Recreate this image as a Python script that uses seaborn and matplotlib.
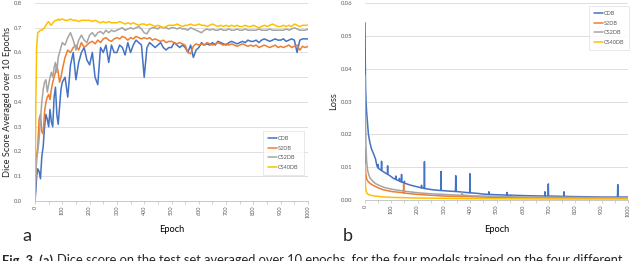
import pandas as pd
import seaborn as sns
import matplotlib.pyplot as plt
from matplotlib.ticker import MultipleLocator, FormatStrFormatter

# ---- data: (a) dice score averaged over 10 epochs ----
models = ['CDB', 'S2DB', 'CS2DB', 'CS40DB']
colors = ['#4472C4', '#ED7D31', '#A5A5A5', '#FFC000']

dice_epochs = [0, 3, 6] + list(range(10, 100, 5)) + list(range(100, 1001, 10))

dice_cdb = [0.0, 0.04, 0.10,
            0.13, 0.12, 0.09, 0.18, 0.22, 0.30, 0.35, 0.33, 0.30, 0.37, 0.32, 0.30, 0.42, 0.46, 0.35, 0.31, 0.38, 0.45,
            0.48, 0.50, 0.42, 0.55, 0.60, 0.49, 0.56, 0.60, 0.62, 0.57,
            0.55, 0.60, 0.50, 0.47, 0.62, 0.60, 0.63, 0.56, 0.63, 0.60,
            0.60, 0.63, 0.62, 0.59, 0.64, 0.60, 0.63, 0.65, 0.64, 0.63,
            0.50, 0.62, 0.64, 0.63, 0.62, 0.63, 0.64, 0.62, 0.61, 0.62,
            0.62, 0.64, 0.63, 0.62, 0.63, 0.62, 0.60, 0.63, 0.58, 0.61,
            0.62, 0.64, 0.63, 0.635, 0.63, 0.64, 0.63, 0.645, 0.64, 0.635,
            0.63, 0.64, 0.645, 0.64, 0.635, 0.64, 0.645, 0.64, 0.65, 0.645,
            0.645, 0.65, 0.64, 0.65, 0.655, 0.65, 0.645, 0.65, 0.655, 0.65,
            0.65, 0.655, 0.645, 0.65, 0.655, 0.65, 0.60, 0.65, 0.655, 0.655,
            0.655]

dice_s2db = [0.05, 0.12, 0.18,
             0.22, 0.33, 0.35, 0.28, 0.27, 0.36, 0.40, 0.42, 0.43, 0.41, 0.45, 0.48, 0.50, 0.52, 0.55, 0.52, 0.48, 0.50,
             0.53, 0.58, 0.61, 0.60, 0.62, 0.63, 0.61, 0.64, 0.62, 0.63,
             0.64, 0.645, 0.635, 0.65, 0.64, 0.655, 0.66, 0.65, 0.645, 0.655,
             0.66, 0.655, 0.665, 0.66, 0.65, 0.66, 0.655, 0.665, 0.66, 0.655,
             0.66, 0.655, 0.66, 0.65, 0.655, 0.65, 0.645, 0.65, 0.64, 0.645,
             0.645, 0.64, 0.635, 0.64, 0.635, 0.63, 0.60, 0.595, 0.625, 0.635,
             0.63, 0.635, 0.63, 0.64, 0.635, 0.63, 0.635, 0.64, 0.635, 0.63,
             0.635, 0.63, 0.635, 0.63, 0.625, 0.63, 0.635, 0.63, 0.625, 0.63,
             0.625, 0.63, 0.62, 0.625, 0.63, 0.625, 0.62, 0.625, 0.63, 0.62,
             0.625, 0.62, 0.625, 0.63, 0.62, 0.625, 0.63, 0.61, 0.625, 0.62,
             0.625]

dice_cs2db = [0.0, 0.10, 0.17,
              0.20, 0.25, 0.33, 0.40, 0.45, 0.48, 0.49, 0.44, 0.47, 0.50, 0.52, 0.50, 0.54, 0.56, 0.52, 0.58, 0.60, 0.62,
              0.64, 0.63, 0.66, 0.68, 0.65, 0.61, 0.65, 0.67, 0.65, 0.64,
              0.67, 0.68, 0.665, 0.68, 0.685, 0.675, 0.69, 0.68, 0.69, 0.685,
              0.69, 0.695, 0.70, 0.69, 0.695, 0.70, 0.695, 0.70, 0.705, 0.695,
              0.68, 0.675, 0.695, 0.70, 0.70, 0.695, 0.705, 0.70, 0.70, 0.695,
              0.70, 0.70, 0.695, 0.70, 0.695, 0.695, 0.69, 0.70, 0.695, 0.69,
              0.685, 0.68, 0.69, 0.695, 0.69, 0.695, 0.69, 0.69, 0.695, 0.69,
              0.69, 0.695, 0.69, 0.69, 0.695, 0.69, 0.69, 0.695, 0.69, 0.69,
              0.69, 0.69, 0.695, 0.69, 0.69, 0.69, 0.695, 0.69, 0.69, 0.69,
              0.69, 0.69, 0.695, 0.69, 0.695, 0.70, 0.695, 0.69, 0.69, 0.69,
              0.695]

dice_cs40db = [0.0, 0.40, 0.62,
               0.68, 0.685, 0.69, 0.69, 0.695, 0.70, 0.71, 0.72, 0.725, 0.715, 0.71, 0.72, 0.725, 0.73, 0.73, 0.735, 0.73, 0.735,
               0.735, 0.73, 0.73, 0.735, 0.73, 0.73, 0.725, 0.73, 0.73, 0.73,
               0.73, 0.725, 0.73, 0.725, 0.72, 0.725, 0.72, 0.725, 0.72, 0.72,
               0.72, 0.725, 0.72, 0.715, 0.72, 0.715, 0.72, 0.715, 0.71, 0.715,
               0.715, 0.71, 0.715, 0.71, 0.705, 0.71, 0.705, 0.70, 0.705, 0.71,
               0.71, 0.71, 0.715, 0.71, 0.705, 0.71, 0.71, 0.715, 0.71, 0.71,
               0.715, 0.71, 0.71, 0.705, 0.71, 0.715, 0.71, 0.705, 0.71, 0.705,
               0.71, 0.705, 0.71, 0.705, 0.71, 0.705, 0.705, 0.71, 0.705, 0.705,
               0.71, 0.705, 0.70, 0.705, 0.71, 0.705, 0.71, 0.715, 0.71, 0.705,
               0.705, 0.71, 0.705, 0.71, 0.705, 0.715, 0.71, 0.705, 0.71, 0.71,
               0.71]

# ---- data: (b) training loss ----
loss_cdb_epochs = [0, 1, 2, 4, 6, 10, 13, 19, 25, 32,
                   40, 45, 49, 50, 51, 55, 62, 63, 64, 70,
                   80, 85, 86, 87, 100, 108, 116, 117, 118, 125,
                   130, 131, 132, 138, 139, 140, 149, 150, 151, 159,
                   170, 184, 200, 214, 215, 216, 222, 225, 226, 227,
                   250, 270, 288, 289, 290, 320, 342, 344, 345, 346,
                   370, 398, 399, 400, 430, 450, 470, 471, 472, 500,
                   539, 540, 541, 577, 620, 683, 684, 685, 696, 697,
                   698, 703, 756, 757, 758, 830, 900, 960, 961, 962,
                   1000]
loss_cdb = [0.054, 0.043, 0.035, 0.030, 0.027, 0.023, 0.020, 0.0173, 0.0155, 0.0142,
            0.0125, 0.0105, 0.0098, 0.0108, 0.0097, 0.0094, 0.0090, 0.0118, 0.0089, 0.0086,
            0.0081, 0.0079, 0.0104, 0.0078, 0.0071, 0.0066, 0.0063, 0.0073, 0.0062, 0.0060,
            0.0058, 0.0066, 0.0057, 0.0055, 0.0078, 0.0055, 0.0051, 0.0057, 0.0051, 0.0049,
            0.0046, 0.0043, 0.0040, 0.0037, 0.0045, 0.0037, 0.0036, 0.0035, 0.0117, 0.0035,
            0.0032, 0.0030, 0.0029, 0.0087, 0.0029, 0.0027, 0.0026, 0.0026, 0.0074, 0.0026,
            0.0024, 0.0022, 0.0080, 0.0022, 0.0020, 0.0018, 0.0017, 0.0025, 0.0017, 0.0016,
            0.0015, 0.0023, 0.0015, 0.0014, 0.0013, 0.0012, 0.0025, 0.0012, 0.0012, 0.0049,
            0.0012, 0.0012, 0.0011, 0.0025, 0.0011, 0.0010, 0.0009, 0.0009, 0.0047, 0.0009,
            0.0009]

loss_s2db_epochs = [0, 1, 3, 6, 10, 20, 30, 50, 70, 100,
                    146, 147, 148, 150, 200, 300, 400, 500, 564, 565,
                    566, 600, 800, 1000]
loss_s2db = [0.016, 0.011, 0.008, 0.0065, 0.0058, 0.0050, 0.0045, 0.0037, 0.0031, 0.0026,
             0.0022, 0.0048, 0.0021, 0.0021, 0.0017, 0.0012, 0.0010, 0.0008, 0.0007, 0.0014,
             0.0007, 0.0007, 0.0006, 0.0005]

loss_cs2db_epochs = [0, 1, 2, 4, 6, 10, 15, 20, 30, 40,
                     50, 70, 100, 150, 200, 250, 300, 350, 369, 370,
                     371, 400, 500, 600, 800, 1000]
loss_cs2db = [0.038, 0.030, 0.024, 0.016, 0.012, 0.009, 0.0075, 0.0066, 0.0057, 0.0050,
              0.0046, 0.0039, 0.0033, 0.0027, 0.0022, 0.0019, 0.0017, 0.0015, 0.0015, 0.0024,
              0.0015, 0.0013, 0.0011, 0.0009, 0.0008, 0.0007]

loss_cs40db_epochs = [0, 1, 2, 4, 8, 15, 30, 60, 100, 200, 400, 700, 1000]
loss_cs40db = [0.011, 0.006, 0.004, 0.0028, 0.0020, 0.0016, 0.0013, 0.0010, 0.0008, 0.0006,
               0.0004, 0.0003, 0.0003]

dice_df = pd.concat([
    pd.DataFrame({'Epoch': dice_epochs, 'value': vals, 'model': m})
    for m, vals in zip(models, [dice_cdb, dice_s2db, dice_cs2db, dice_cs40db])
])
loss_df = pd.concat([
    pd.DataFrame({'Epoch': ep, 'value': vals, 'model': m})
    for m, ep, vals in zip(models,
                           [loss_cdb_epochs, loss_s2db_epochs, loss_cs2db_epochs, loss_cs40db_epochs],
                           [loss_cdb, loss_s2db, loss_cs2db, loss_cs40db])
])

sns.set_theme(style='white')
plt.rcParams['font.family'] = ['Lato', 'DejaVu Sans']

fig = plt.figure(figsize=(6.4, 2.61), dpi=100)
ax1 = fig.add_axes([35 / 640, 1 - 201 / 261, 273 / 640, 198 / 261])
ax2 = fig.add_axes([365 / 640, 1 - 200 / 261, 263 / 640, 197 / 261])

palette = dict(zip(models, colors))
sns.lineplot(data=dice_df, x='Epoch', y='value', hue='model', palette=palette,
             estimator=None, lw=1.1, ax=ax1)
sns.lineplot(data=loss_df, x='Epoch', y='value', hue='model', palette=palette,
             estimator=None, lw=1.1, ax=ax2)

for ax, ymax, ystep, fmt in [(ax1, 0.8, 0.1, None), (ax2, 0.06, 0.01, '%.2f')]:
    ax.set_xlim(0, 1000)
    ax.set_ylim(0, ymax)
    ax.yaxis.set_major_locator(MultipleLocator(ystep))
    if fmt:
        ax.yaxis.set_major_formatter(FormatStrFormatter(fmt))
    ax.xaxis.set_major_locator(MultipleLocator(100))
    ax.xaxis.set_minor_locator(MultipleLocator(50))
    ax.grid(axis='y', color='#D9D9D9', lw=0.6)
    ax.set_axisbelow(True)
    for s in ['top', 'right', 'left']:
        ax.spines[s].set_visible(False)
    ax.spines['bottom'].set_color('#BFBFBF')
    ax.spines['bottom'].set_linewidth(0.6)
    ax.tick_params(axis='x', which='both', bottom=True, length=2, width=0.5,
                   color='#BFBFBF', labelsize=4, labelcolor='#595959',
                   labelrotation=90, pad=1.5)
    ax.tick_params(axis='y', left=False, labelsize=4.2, labelcolor='#595959', pad=3)
    ax.set_xlabel('Epoch', fontsize=6.7, color='#000000')
    leg = ax.legend(fontsize=4, frameon=True, fancybox=False, handlelength=1.6,
                    labelspacing=0.8, borderpad=0.9, handletextpad=0.2,
                    edgecolor='#D9D9D9', loc='center')
    leg.get_frame().set_linewidth(0.5)
    for t in leg.get_texts():
        t.set_color('#595959')

ax1.set_ylabel('Dice Score Averaged over 10 Epochs', fontsize=6.7)
ax2.set_ylabel('Loss', fontsize=6.7)
ax1.yaxis.set_label_coords(-0.084, 0.5)
ax2.yaxis.set_label_coords(-0.103, 0.5)
ax1.xaxis.set_label_coords(0.5, -0.121)
ax2.xaxis.set_label_coords(0.5, -0.127)
ax1.get_legend().set_bbox_to_anchor((0.910, 0.242), transform=ax1.transAxes)
ax2.get_legend().set_bbox_to_anchor((0.928, 0.873), transform=ax2.transAxes)

fig.text(22 / 640, 1 - 241 / 261, 'a', fontsize=13, va='baseline')
fig.text(343 / 640, 1 - 241 / 261, 'b', fontsize=13, va='baseline')

# caption, cut by the lower edge as in the source image
cap_y = 1 - 254.5 / 261
t1 = fig.text(2 / 640, cap_y, 'Fig. 3. (a)', fontsize=9.3, fontweight='bold', va='top')
fig.canvas.draw()
bb = t1.get_window_extent()
fig.text((bb.x1 + 4) / 640, cap_y,
         'Dice score on the test set averaged over 10 epochs, for the four models trained on the four different',
         fontsize=9.3, va='top')

fig.savefig('out.png', dpi=100)
